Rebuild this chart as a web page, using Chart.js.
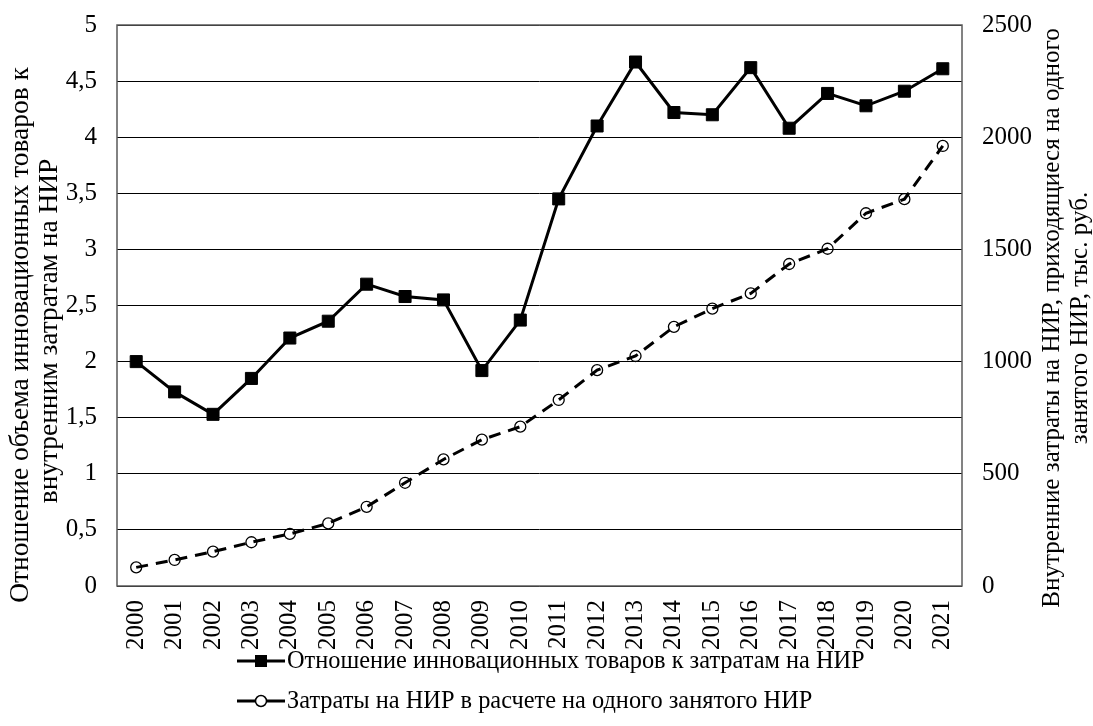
<!DOCTYPE html>
<html><head><meta charset="utf-8">
<script src="https://cdn.jsdelivr.net/npm/chart.js@4.4.1/dist/chart.umd.min.js"></script>
<style>html,body{margin:0;padding:0;background:#fff;}#wrap{width:1093px;height:726px;position:relative;}</style>
</head><body><div id="wrap"><canvas id="c" width="1093" height="726"></canvas></div>
<script>
const years = ['2000','2001','2002','2003','2004','2005','2006','2007','2008','2009','2010','2011','2012','2013','2014','2015','2016','2017','2018','2019','2020','2021'];
const ratioValues = [2.00,1.73,1.53,1.85,2.21,2.36,2.69,2.58,2.55,1.92,2.37,3.45,4.10,4.67,4.22,4.20,4.62,4.08,4.39,4.28,4.41,4.61];
const costValues = [83,116,153,195,232,279,353,460,564,652,710,829,962,1025,1155,1236,1304,1435,1503,1661,1724,1961];
const leftTickLabels = ['0','0,5','1','1,5','2','2,5','3','3,5','4','4,5','5'];
const rightTickLabels = ['0','500','1000','1500','2000','2500'];
const seriesNames = ['Отношение инновационных товаров к затратам на НИР','Затраты на НИР в расчете на одного занятого НИР'];
const leftTitle = ['Отношение объема инновационных товаров к','внутренним затратам на НИР'];
const rightTitle = ['Внутренние затраты на НИР, приходящиеся на одного','занятого НИР, тыс. руб.'];

const FAMILY = "'Liberation Serif', 'Times New Roman', serif";
const mctx = document.createElement('canvas').getContext('2d');
function fitSize(text, target){ mctx.font = '100px ' + FAMILY; return 100 * target / mctx.measureText(text).width; }
const leftTitleSize = fitSize(leftTitle[0], 536);
const rightTitleSize = fitSize(rightTitle[0], 580);
const legendSize = fitSize(seriesNames[0], 578);
const YTICK = 25, XTICK = 25;

function drawRotated(ctx, text, x, y, size){
  ctx.save(); ctx.translate(x, y); ctx.rotate(-Math.PI/2);
  ctx.font = size + 'px ' + FAMILY; ctx.fillStyle = '#000';
  ctx.textAlign = 'center'; ctx.textBaseline = 'middle';
  ctx.fillText(text, 0, 0); ctx.restore();
}

const decor = {
  id: 'decor',
  beforeDatasetsDraw(chart){
    const ctx = chart.ctx, a = chart.chartArea;
    ctx.save(); ctx.strokeStyle = '#5a5a5a'; ctx.lineWidth = 1.5;
    ctx.strokeRect(a.left, a.top, a.right - a.left, a.bottom - a.top);
    ctx.restore();
  },
  afterDraw(chart){
    const ctx = chart.ctx;
    drawRotated(ctx, leftTitle[0], 21, 335, leftTitleSize);
    drawRotated(ctx, leftTitle[1], 50, 331, leftTitleSize);
    drawRotated(ctx, rightTitle[0], 1052, 318, rightTitleSize);
    drawRotated(ctx, rightTitle[1], 1080, 318, rightTitleSize);
    ctx.save();
    for (let i = 0; i < 2; i++){
      const y = 661 + i * 40;
      ctx.strokeStyle = '#000'; ctx.lineWidth = 3; ctx.setLineDash([]);
      ctx.beginPath(); ctx.moveTo(237, y); ctx.lineTo(285, y); ctx.stroke();
      if (i === 0){ ctx.fillStyle = '#000'; ctx.fillRect(255, y - 6, 12, 12); }
      else { ctx.fillStyle = '#fff'; ctx.lineWidth = 1.5; ctx.beginPath(); ctx.arc(261, y, 5.5, 0, Math.PI*2); ctx.fill(); ctx.stroke(); }
      ctx.fillStyle = '#000'; ctx.font = legendSize + 'px ' + FAMILY;
      ctx.textAlign = 'left'; ctx.textBaseline = 'middle';
      ctx.fillText(seriesNames[i], 287, y + 1);
    }
    ctx.restore();
  }
};

function fixV(width){ return function(s){ s.width = width; s.paddingTop = 0; s.paddingBottom = 0; }; }

new Chart(document.getElementById('c'), {
  type: 'line',
  data: {
    labels: years,
    datasets: [
      { label: seriesNames[0], data: ratioValues, yAxisID: 'y',
        borderColor: '#000', borderWidth: 3, backgroundColor: '#000',
        pointStyle: 'rect', pointRadius: 8.5, pointBorderWidth: 1, pointBackgroundColor: '#000', pointBorderColor: '#000',
        tension: 0, order: 1 },
      { label: seriesNames[1], data: costValues, yAxisID: 'y1',
        borderColor: '#000', borderWidth: 3, borderDash: [12, 8],
        pointStyle: 'circle', pointRadius: 5.5, pointBorderWidth: 1.3, pointBackgroundColor: 'rgba(255,255,255,0)', pointBorderColor: '#000',
        tension: 0, order: 2 }
    ]
  },
  options: {
    responsive: false, animation: false, devicePixelRatio: 1,
    layout: { padding: { top: 25, bottom: 0, left: 0, right: 0 } },
    plugins: { legend: { display: false }, tooltip: { enabled: false } },
    scales: {
      x: {
        offset: true,
        grid: { display: false, drawTicks: false }, border: { display: false },
        ticks: { maxRotation: 90, minRotation: 90, padding: 14, color: '#000', autoSkip: false, font: { family: FAMILY, size: XTICK } },
        afterFit(s){ s.height = 140; s.paddingLeft = 0; s.paddingRight = 0; }
      },
      y: {
        position: 'left', min: 0, max: 5,
        ticks: { stepSize: 0.5, padding: 20, color: '#000', font: { family: FAMILY, size: YTICK },
          callback: (v, i) => leftTickLabels[i] },
        grid: { color: '#000', lineWidth: 1, drawTicks: false }, border: { display: false },
        afterFit: fixV(117)
      },
      y1: {
        position: 'right', min: 0, max: 2500,
        ticks: { stepSize: 500, padding: 20, color: '#000', font: { family: FAMILY, size: YTICK },
          callback: (v, i) => rightTickLabels[i] },
        grid: { display: false, drawTicks: false }, border: { display: false },
        afterFit: fixV(131)
      }
    }
  },
  plugins: [decor]
});
</script></body></html>
